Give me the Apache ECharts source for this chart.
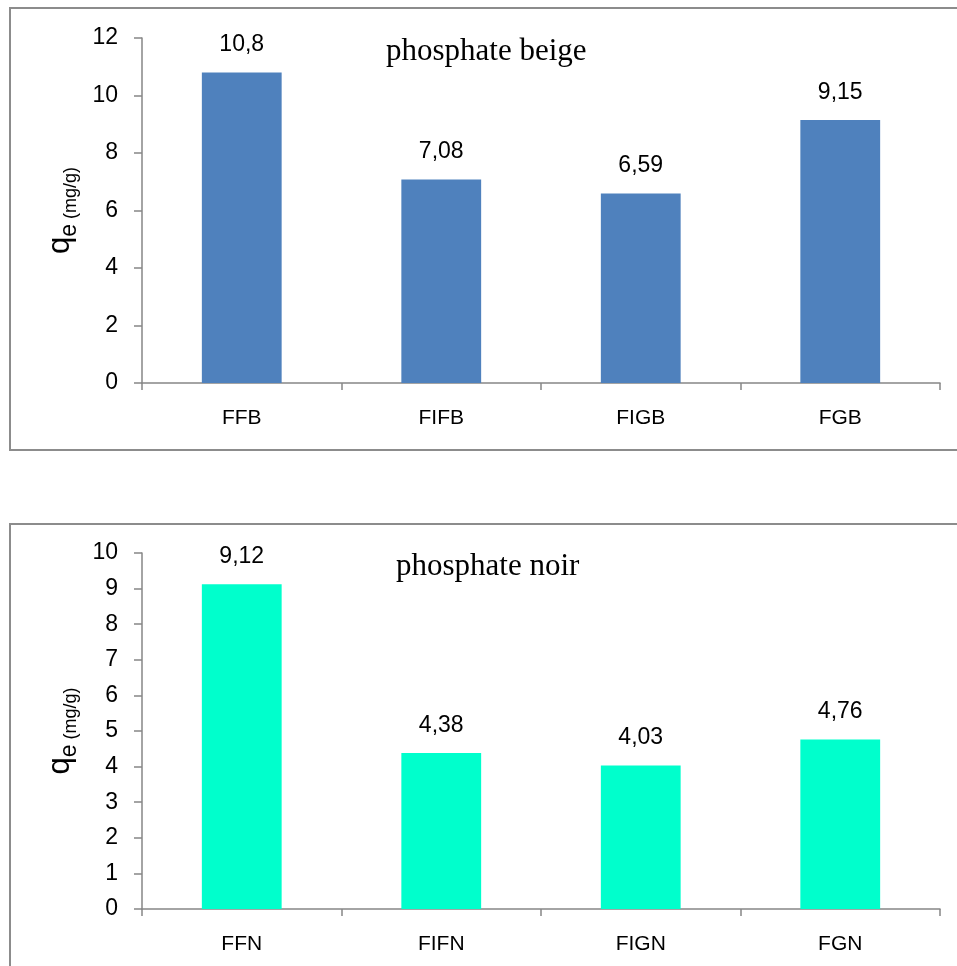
<!DOCTYPE html>
<html>
<head>
<meta charset="utf-8">
<script src="https://cdn.jsdelivr.net/npm/echarts@6/dist/echarts.min.js"></script>
<style>html,body{margin:0;padding:0;background:#fff}#c{width:957px;height:966px}</style>
</head>
<body>
<div id="c"></div>
<script>
const catsBeige = ['FFB', 'FIFB', 'FIGB', 'FGB'];
const valsBeige = [10.8, 7.08, 6.59, 9.15];
const catsNoir = ['FFN', 'FIFN', 'FIGN', 'FGN'];
const valsNoir = [9.12, 4.38, 4.03, 4.76];
const titleBeige = 'phosphate beige';
const titleNoir = 'phosphate noir';

const FONT = 'Liberation Sans, Arial, sans-serif';
const GRAY = '#868686';
const chart = echarts.init(document.getElementById('c'), null, {renderer: 'canvas'});

const yName = {
  name: '{q|q}{e|e}{u| (mg/g)}',
  nameLocation: 'middle',
  nameRotate: 90,
  nameGap: 47,
  nameTextStyle: {
    rich: {
      q: {fontFamily: FONT, fontSize: 31, color: '#000', verticalAlign: 'bottom', padding: [0, 0, 6, 0]},
      e: {fontFamily: FONT, fontSize: 23, color: '#000', verticalAlign: 'bottom'},
      u: {fontFamily: FONT, fontSize: 18, color: '#000', verticalAlign: 'bottom', padding: [0, 0, 1, 0]}
    }
  }
};

function xAx(idx, cats) {
  return {
    type: 'category', gridIndex: idx, data: cats, boundaryGap: true,
    axisLine: {lineStyle: {color: GRAY, width: 1.5}},
    axisTick: {show: true, alignWithLabel: false, length: 7, lineStyle: {color: GRAY, width: 1.5}},
    axisLabel: {color: '#000', fontFamily: FONT, fontSize: 21, margin: 25}
  };
}
function yAx(idx, max, interval) {
  return Object.assign({
    type: 'value', gridIndex: idx, min: 0, max: max, interval: interval,
    axisLine: {show: true, lineStyle: {color: GRAY, width: 1.5}},
    axisTick: {show: true, length: 8, lineStyle: {color: GRAY, width: 1.5}},
    axisLabel: {color: '#000', fontFamily: FONT, fontSize: 23, margin: 24},
    splitLine: {show: false}
  }, yName);
}
function ser(idx, vals, color) {
  return {
    type: 'bar', xAxisIndex: idx, yAxisIndex: idx, data: vals,
    barWidth: '40%',
    itemStyle: {color: color},
    label: {
      show: true, position: 'top', distance: 16,
      color: '#000', fontFamily: FONT, fontSize: 23,
      formatter: p => String(p.value).replace('.', ',')
    }
  };
}

chart.setOption({
  animation: false,
  backgroundColor: '#fff',
  grid: [
    {left: 142, right: 17, top: 38, height: 345},
    {left: 142, right: 17, top: 553, height: 356}
  ],
  xAxis: [xAx(0, catsBeige), xAx(1, catsNoir)],
  yAxis: [yAx(0, 12, 2), yAx(1, 10, 1)],
  series: [ser(0, valsBeige, '#4F81BD'), ser(1, valsNoir, '#00FFCC')],
  graphic: [
    {type: 'rect', silent: true, z: -1, shape: {x: 10, y: 8, width: 960, height: 442},
     style: {fill: 'none', stroke: '#8c8c8c', lineWidth: 2}},
    {type: 'rect', silent: true, z: -1, shape: {x: 10, y: 524, width: 960, height: 460},
     style: {fill: 'none', stroke: '#8c8c8c', lineWidth: 2}},
    {type: 'text', left: 386, top: 36, style: {text: titleBeige, fontFamily: 'Liberation Serif, Times New Roman, serif', fontSize: 31, fill: '#000'}},
    {type: 'text', left: 396, top: 551, style: {text: titleNoir, fontFamily: 'Liberation Serif, Times New Roman, serif', fontSize: 31, fill: '#000'}}
  ]
});
</script>
</body>
</html>
